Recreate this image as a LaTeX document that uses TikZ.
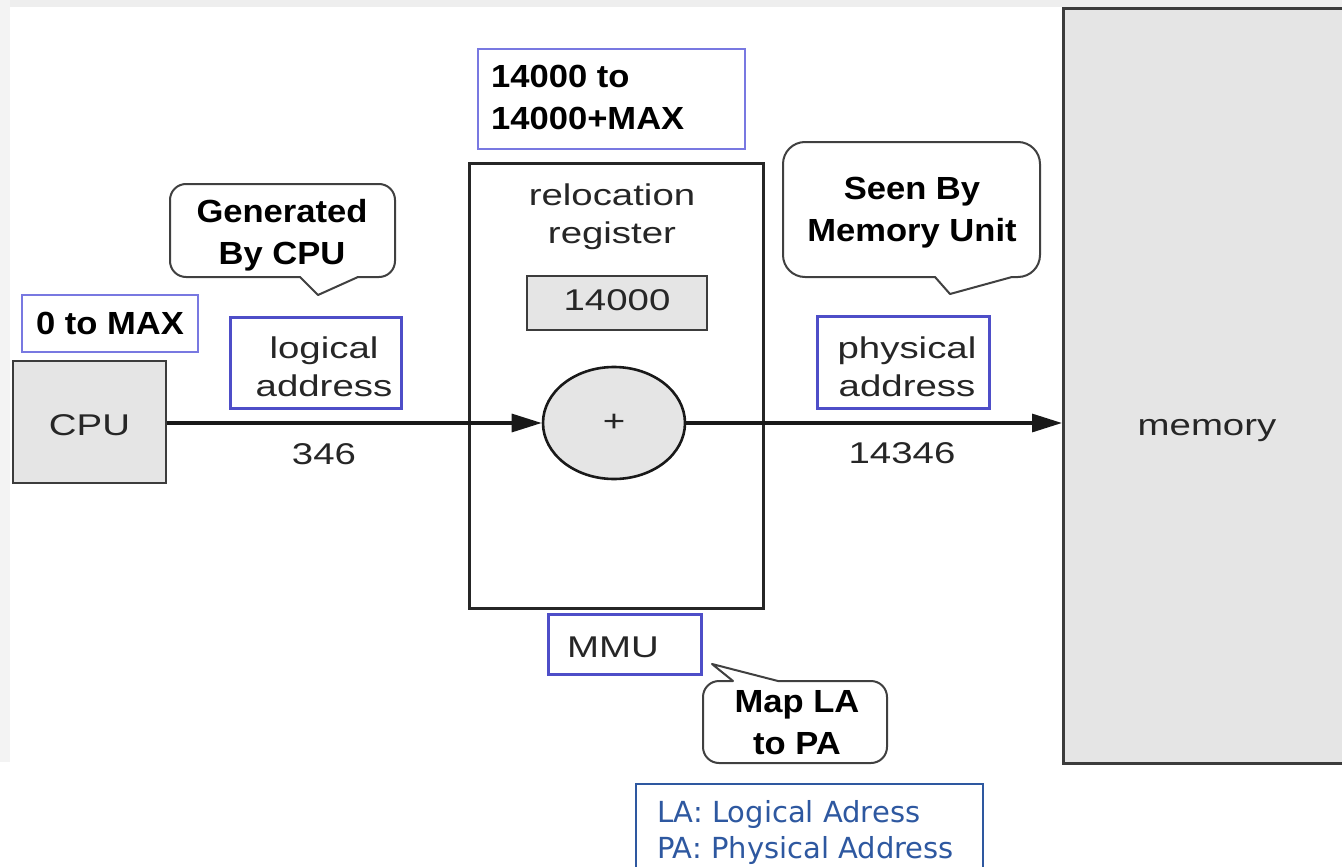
\documentclass[tikz,border=0pt]{standalone}
\usepackage{fontspec}
\setmainfont{Liberation Sans}
\newfontfamily\regfont{Liberation Sans}[FakeStretch=1.28]
\newfontfamily\boldfam{Liberation Sans}[FakeStretch=1.08]
\newfontfamily\legendfont{DejaVu Sans}
\usetikzlibrary{arrows.meta,shapes.geometric}

\definecolor{inkdark}{RGB}{38,38,38}
\definecolor{boxblue}{RGB}{78,78,200}
\definecolor{lightblue}{RGB}{120,120,225}
\definecolor{fillgray}{RGB}{229,229,229}
\definecolor{edgegray}{RGB}{60,60,60}
\definecolor{legendblue}{RGB}{46,88,160}
\definecolor{haze}{RGB}{238,238,238}

\tikzset{
  regtext/.style={font=\regfont\fontsize{30}{38}\selectfont, text=inkdark, inner sep=0pt, align=center},
  boldtext/.style={font=\boldfam\bfseries\fontsize{32}{42}\selectfont, text=black, inner sep=0pt, align=center},
  bluebox/.style={draw=boxblue, line width=3pt, inner sep=0pt},
  thinblue/.style={draw=lightblue, line width=2.2pt, inner sep=0pt},
  graybox/.style={draw=edgegray, fill=fillgray, line width=2.6pt, inner sep=0pt},
  unitbox/.style={draw=black!85, line width=3pt, inner sep=0pt},
  callout/.style={draw=black!75, fill=white, line width=2pt, line join=round},
  flow/.style={line width=3.2pt, draw=black!90, -{Triangle[length=30pt,width=18pt]}},
  legendtext/.style={font=\legendfont\fontsize{29}{36}\selectfont, text=legendblue, inner sep=0pt},
}

\begin{document}
\begin{tikzpicture}[x=1pt,y=-1pt]
\useasboundingbox (0,0) rectangle (1342,867);
\fill[white] (0,0) rectangle (1342,867);
% faint scan border along the top and left edges
\fill[haze] (0,0) rectangle (1342,7);
\fill[haze!70] (0,0) rectangle (10,762);

% memory
\node[graybox, minimum width=300pt, minimum height=755pt, anchor=north west] (mem) at (1062,7) {};
\node[regtext, anchor=base] (memlbl) at (1207,435) {memory};

% CPU and its range
\node[graybox, minimum width=153pt, minimum height=122pt] (cpu) at (89.5,422) {};
\node[regtext] (cpulbl) at (89.5,425) {CPU};
\node[thinblue, minimum width=176pt, minimum height=57pt, boldtext] (cpurange) at (110,323.5) {0 to MAX};

% MMU with relocation register and adder
\node[unitbox, minimum width=294pt, minimum height=445pt, anchor=north west] (mmu) at (468,162) {};
\node[regtext] (reloc) at (612,216.4) {relocation\\register};
\node[graybox, minimum width=180pt, minimum height=54pt] (reg) at (617,303) {};
\node[regtext] (regval) at (617,300) {14000};
\node[ellipse, draw=black!90, fill=fillgray, line width=2.6pt, minimum width=142pt, minimum height=112pt, inner sep=0pt] (plus) at (614,423) {};
\node[regtext] (plussign) at (614,423) {+};

% physical range
\node[thinblue, minimum width=267pt, minimum height=100pt, anchor=north west] (physrange) at (477,48) {};
\node[boldtext, align=left, anchor=west] (physrangelbl) at (491,97.5) {14000 to\\14000+MAX};

% address labels
\node[bluebox, minimum width=171pt, minimum height=91pt] (labox) at (315.5,362.5) {};
\node[regtext] (lalbl) at (324,367) {logical\\address};
\node[regtext] (laval) at (324,454) {346};
\node[bluebox, minimum width=172pt, minimum height=92pt] (pabox) at (903,362) {};
\node[regtext] (palbl) at (907,367) {physical\\address};
\node[regtext] (paval) at (902,453) {14346};

% MMU caption
\node[bluebox, minimum width=153pt, minimum height=60pt, anchor=north west] (mmubox) at (547,613) {};
\node[regtext, anchor=base west] (mmulbl) at (567,657) {MMU};

% data path
\draw[flow] (cpu.east |- plus.west) -- (plus.west);
\draw[flow] (plus.east) -- (mem.west |- plus.east);

% callouts
\draw[callout] (300,277) [rounded corners=16pt] -- (170,277) -- (170,184) -- (395,184) -- (395,277) [sharp corners] -- (358,277) -- (318,295) -- cycle;
\node[boldtext] (gencpu) at (282,235) {Generated\\By CPU};

\draw[callout] (935,277) [rounded corners=22pt] -- (783,277) -- (783,142) -- (1040,142) -- (1040,277) [sharp corners] -- (1012,277) -- (950,294) -- cycle;
\node[boldtext] (seenmem) at (912,213) {Seen By\\Memory Unit};

\draw[callout] (778,681) [rounded corners=16pt] -- (887,681) -- (887,763) -- (703,763) -- (703,681) [sharp corners] -- (733,681) -- (712,664) -- cycle;
\node[boldtext] (maplbl) at (797,722.5) {Map LA\\to PA};

% legend
\draw[legendblue, line width=1.5pt] (636,784) rectangle (983,900);
\node[legendtext, anchor=base west] (legla) at (657,822) {LA: Logical Adress};
\node[legendtext, anchor=base west] (legpa) at (657,858) {PA: Physical Address};
\end{tikzpicture}
\end{document}
